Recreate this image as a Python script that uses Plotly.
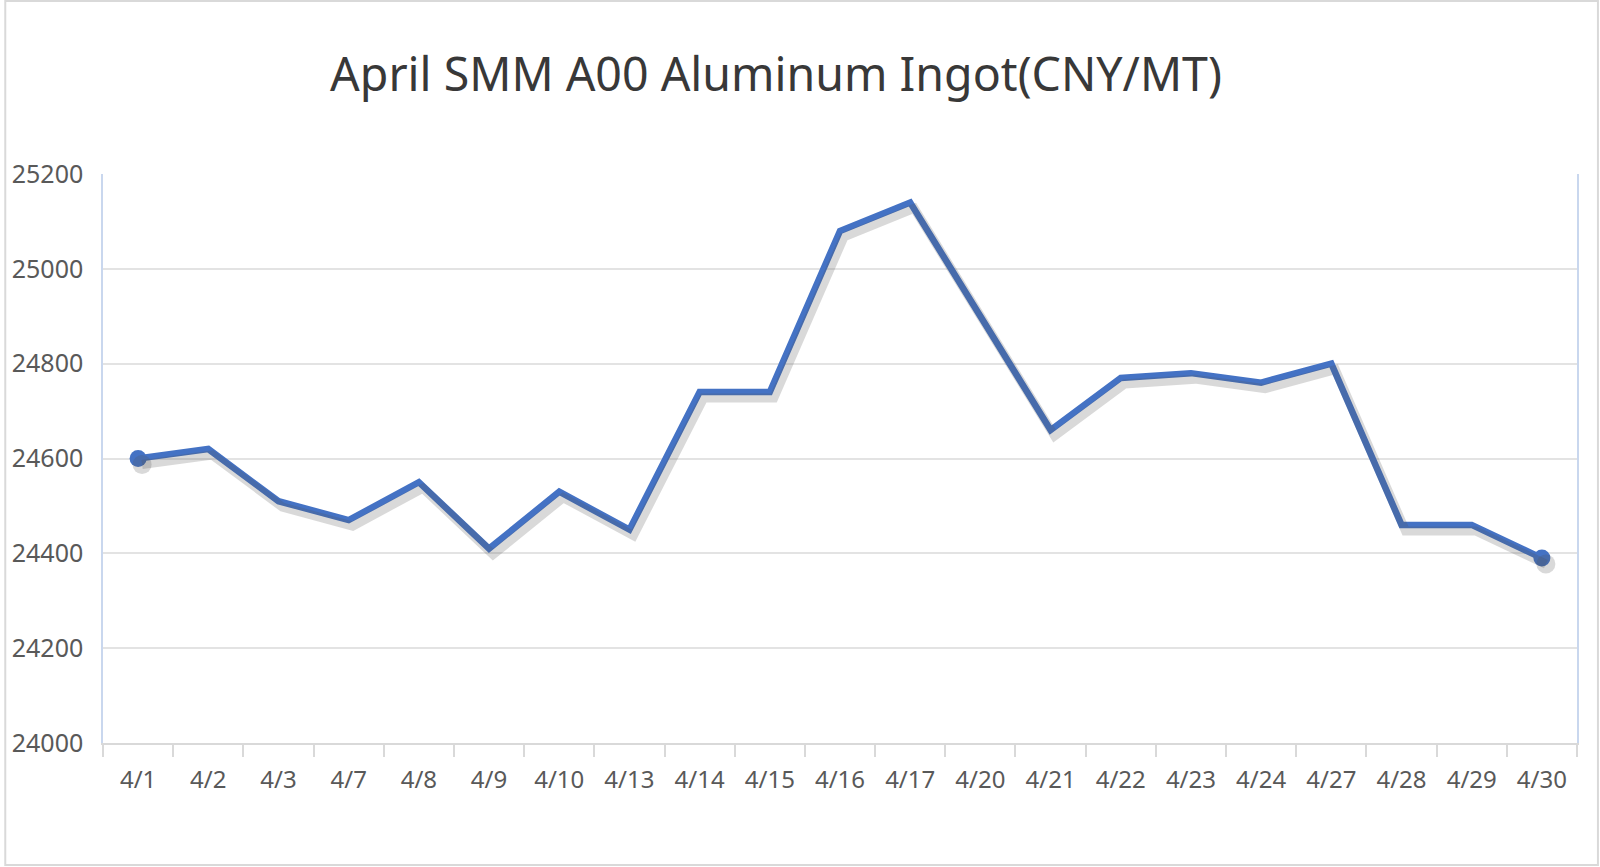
import plotly.graph_objects as go

dates = ["4/1", "4/2", "4/3", "4/7", "4/8", "4/9", "4/10", "4/13", "4/14", "4/15", "4/16",
         "4/17", "4/20", "4/21", "4/22", "4/23", "4/24", "4/27", "4/28", "4/29", "4/30"]
prices = [24600, 24620, 24510, 24470, 24550, 24410, 24530, 24450, 24740, 24740, 25080,
          25140, 24900, 24660, 24770, 24780, 24760, 24800, 24460, 24460, 24390]
y_ticks = [24000, 24200, 24400, 24600, 24800, 25000, 25200]

W, H = 1600, 867
ML, MR, MT, MB = 99, 23, 174, 124
pw, ph = W - ML - MR, H - MT - MB
n = len(dates)
y0, y1 = 24000, 25200

# shadow offset in pixels -> axis units
dx_px, dy_px = 4, 6
dx = dx_px * n / pw
dy = dy_px * (y1 - y0) / ph

BLUE = "#4472C4"
SHADOW = "rgba(80,80,80,0.22)"
end_x = [dates[0], dates[-1]]
end_y = [prices[0], prices[-1]]

fig = go.Figure()
# shadow
fig.add_trace(go.Scatter(
    x=dates, y=prices, xaxis="x2", yaxis="y2", mode="lines",
    line=dict(color=SHADOW, width=9), hoverinfo="skip", showlegend=False))
fig.add_trace(go.Scatter(
    x=end_x, y=end_y, xaxis="x2", yaxis="y2", mode="markers",
    marker=dict(size=19, color=SHADOW, line=dict(width=0)),
    hoverinfo="skip", showlegend=False))
# main line
fig.add_trace(go.Scatter(
    x=dates, y=prices, mode="lines",
    line=dict(color=BLUE, width=6.5), showlegend=False))
fig.add_trace(go.Scatter(
    x=end_x, y=end_y, mode="markers",
    marker=dict(size=17, color=BLUE, opacity=1, line=dict(width=0)),
    showlegend=False))

font_fam = "Noto Sans, Open Sans, sans-serif"
fig.update_layout(
    width=W, height=H,
    margin=dict(l=ML, r=MR, t=MT, b=MB),
    paper_bgcolor="white", plot_bgcolor="white",
    title=dict(text="April SMM A00 Aluminum Ingot(CNY/MT)",
               x=776 / W, xanchor="center", y=1 - 75 / H, yanchor="middle",
               xref="container", yref="container",
               font=dict(family=font_fam, size=46.5, color="#383838")),
    xaxis=dict(type="category", categoryorder="array", categoryarray=dates,
               range=[-0.5, n - 0.5],
               showgrid=False, showline=True, linecolor="#d9d9d9", linewidth=2,
               ticks="outside", tickson="boundaries", ticklen=12, tickcolor="#d9d9d9", tickwidth=2,
               ticklabelstandoff=14,
               tickfont=dict(family=font_fam, size=24, color="#595959")),
    yaxis=dict(range=[y0, y1], tickvals=y_ticks, ticktext=[str(v) for v in y_ticks],
               showgrid=True, gridcolor="#e3e3e3", gridwidth=2,
               showline=True, linecolor="#c9d7ee", linewidth=1.5, mirror=True,
               zeroline=False, ticks="", ticklabelstandoff=13,
               tickfont=dict(family=font_fam, size=25, color="#595959")),
    xaxis2=dict(type="category", categoryorder="array", categoryarray=dates,
                range=[-0.5 - dx, n - 0.5 - dx], overlaying="x", visible=False),
    yaxis2=dict(range=[y0 + dy, y1 + dy], overlaying="y", visible=False),
    shapes=[dict(type="rect", xref="paper", yref="paper",
                 x0=(1 - ML) / pw, x1=(W - 2 - ML) / pw,
                 y0=-(MB - 2) / ph, y1=1 + (MT - 1) / ph,
                 line=dict(color="#d9d9d9", width=2), layer="below")],
)

fig.write_html("out.html")
